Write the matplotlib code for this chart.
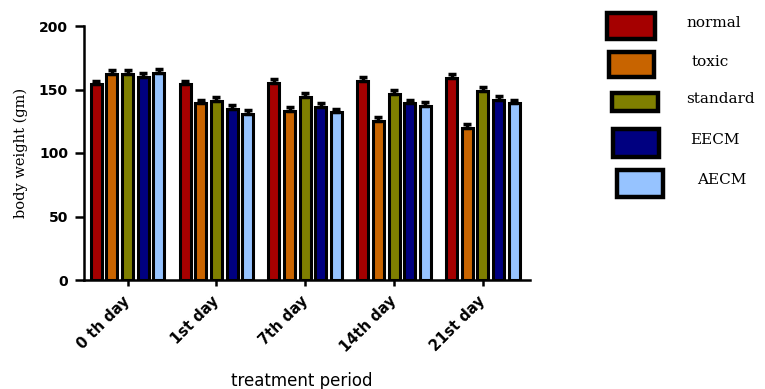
import matplotlib.pyplot as plt
import numpy as np
from matplotlib.patches import Rectangle

# data
days = ['0 th day', '1st day', '7th day', '14th day', '21st day']
groups = ['normal', 'toxic', 'standard', 'EECM', 'AECM']
colors = ['#a50000', '#c86400', '#7f7f00', '#000080', '#96c3ff']

normal = [154, 154, 155, 157, 159]
toxic = [162, 139, 133, 125.5, 119.5]
standard = [162, 141, 144, 146.5, 149]
eecm = [160, 135, 136, 139, 142]
aecm = [163, 131, 132, 137, 139]
errors = [3, 3, 3, 3, 3]

series = [normal, toxic, standard, eecm, aecm]

fig = plt.figure(figsize=(7.65, 3.89), dpi=100)
ax = fig.add_axes([84 / 765, 109 / 389, 446 / 765, 254 / 389])

x = np.arange(len(days))
pitch = 0.176
width = 0.124
for i, (vals, col) in enumerate(zip(series, colors)):
    pos = x + (i - 2) * pitch
    ax.bar(pos, vals, width=width, color=col, edgecolor='black', linewidth=2.2,
           zorder=2)
    ax.errorbar(pos, vals, yerr=[[0] * len(vals), errors], fmt='none',
                ecolor='black', elinewidth=2.5, capsize=2.8, capthick=2.5,
                zorder=3)

ax.set_xlim(-0.49, 4.53)
ax.set_ylim(0, 200)
ax.set_yticks([0, 50, 100, 150, 200])
ax.set_xticks(x)
ax.set_xticklabels(days, rotation=45, ha='right', va='center',
                   rotation_mode='anchor', fontweight='bold', fontsize=10.5,
                   family='DejaVu Sans')
for lab in ax.get_yticklabels():
    lab.set_fontweight('bold')
    lab.set_fontsize(10)
    lab.set_family('DejaVu Sans')

for s in ['top', 'right']:
    ax.spines[s].set_visible(False)
for s in ['left', 'bottom']:
    ax.spines[s].set_linewidth(1.8)
ax.tick_params(axis='y', length=6.5, width=1.8, pad=5)
ax.tick_params(axis='x', length=4.5, width=1.8, pad=9)

ax.set_ylabel('body weight (gm)', family='DejaVu Serif', fontsize=10.5,
              labelpad=8)
fig.text(302 / 765, 1 - 381 / 389, 'treatment period', ha='center',
         va='center', fontsize=12, family='DejaVu Sans')

# legend drawn by hand to match staggered layout
boxes = [(607, 13, 655, 39), (609, 52, 654, 77), (612, 93, 658, 111),
         (613, 129, 659, 157), (617, 170, 663, 197)]
text_x = [686, 692, 686, 690, 697]
for (x0, y0, x1, y1), col, name, tx in zip(boxes, colors, groups, text_x):
    fig.patches.append(Rectangle((x0 / 765, 1 - y1 / 389), (x1 - x0) / 765,
                                 (y1 - y0) / 389, transform=fig.transFigure,
                                 facecolor=col, edgecolor='black',
                                 linewidth=3.2))
    fig.text(tx / 765, 1 - ((y0 + y1) / 2 - 3) / 389, name,
             family='DejaVu Serif', fontsize=11, va='center', ha='left')

fig.savefig('out.png', dpi=100)
